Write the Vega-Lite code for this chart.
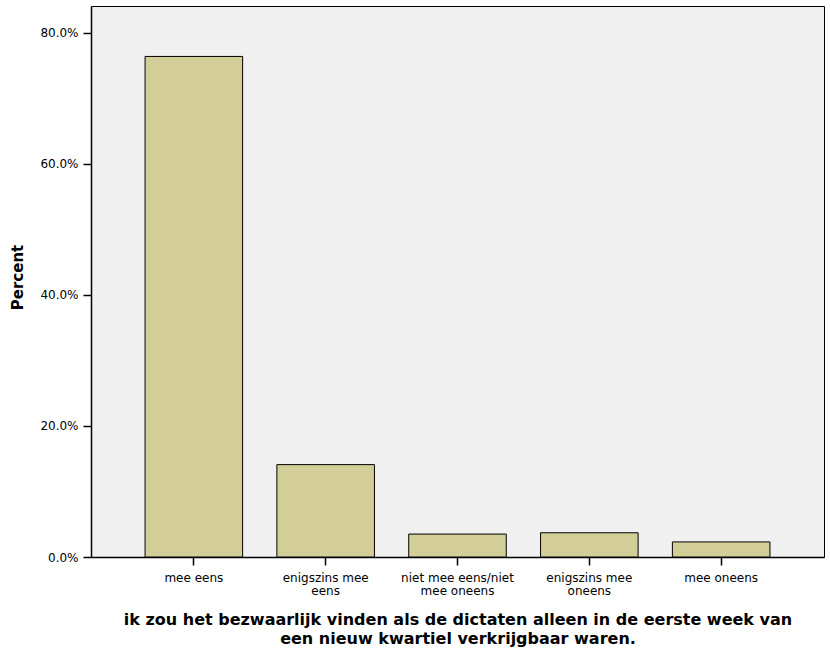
{
  "$schema": "https://vega.github.io/schema/vega-lite/v6.json",
  "width": 733,
  "height": 551,
  "autosize": {"type": "none"},
  "padding": {"left": 91, "top": 6, "right": 6, "bottom": 97},
  "background": "#FFFFFF",
  "config": {
    "font": "DejaVu Sans",
    "view": {"fill": "#F0F0F0", "stroke": "#000000", "strokeWidth": 1}
  },
  "data": {
    "values": [
      {"antwoord": "mee eens", "percent": 76.4},
      {"antwoord": "enigszins mee eens", "percent": 14.1},
      {"antwoord": "niet mee eens/niet mee oneens", "percent": 3.5},
      {"antwoord": "enigszins mee oneens", "percent": 3.7},
      {"antwoord": "mee oneens", "percent": 2.3}
    ]
  },
  "mark": {"type": "bar", "fill": "#D3CE97", "stroke": "#000000", "strokeWidth": 1},
  "encoding": {
    "x": {
      "field": "antwoord",
      "type": "nominal",
      "sort": null,
      "scale": {"paddingInner": 0.26, "paddingOuter": 0.41},
      "axis": {
        "title": ["ik zou het bezwaarlijk vinden als de dictaten alleen in de eerste week van", "een nieuw kwartiel verkrijgbaar waren."],
        "titleFont": "DejaVu Sans",
        "titleFontSize": 16,
        "titleFontWeight": "bold",
        "titleColor": "#000000",
        "titlePadding": 15,
        "titleLineHeight": 19,
        "labelAngle": 0,
        "labelFont": "DejaVu Sans",
        "labelFontSize": 12,
        "labelColor": "#000000",
        "labelPadding": 7,
        "labelLineHeight": 13,
        "labelExpr": "datum.value == 'enigszins mee eens' ? ['enigszins mee', 'eens'] : datum.value == 'niet mee eens/niet mee oneens' ? ['niet mee eens/niet', 'mee oneens'] : datum.value == 'enigszins mee oneens' ? ['enigszins mee', 'oneens'] : datum.value",
        "domainColor": "#000000",
        "domainWidth": 1.5,
        "tickColor": "#000000",
        "tickWidth": 1.5,
        "tickSize": 8
      }
    },
    "y": {
      "field": "percent",
      "type": "quantitative",
      "scale": {"domain": [0, 84.1], "nice": false},
      "axis": {
        "title": "Percent",
        "titleFont": "DejaVu Sans",
        "titleFontSize": 15,
        "titleFontWeight": "bold",
        "titleColor": "#000000",
        "titleX": -66,
        "titleY": 271,
        "values": [0, 20, 40, 60, 80],
        "labelExpr": "format(datum.value, '.1f') + '%'",
        "labelFont": "DejaVu Sans",
        "labelFontSize": 12,
        "labelColor": "#000000",
        "labelPadding": 5,
        "grid": false,
        "domainColor": "#000000",
        "domainWidth": 1.5,
        "tickColor": "#000000",
        "tickWidth": 1.5,
        "tickSize": 8
      }
    }
  }
}
